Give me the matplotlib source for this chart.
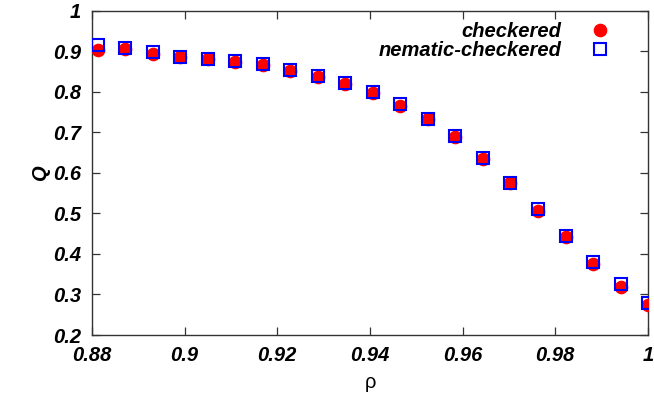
import matplotlib
matplotlib.use("Agg")
import matplotlib.pyplot as plt
from matplotlib.ticker import FormatStrFormatter

# density values (x axis)
rho = [0.8812, 0.8871, 0.8931, 0.8990, 0.9050, 0.9109, 0.9168, 0.9228, 0.9287,
       0.9347, 0.9406, 0.9465, 0.9525, 0.9584, 0.9644, 0.9703, 0.9762, 0.9822,
       0.9881, 0.9941, 1.0]

# order parameter Q
q_checkered = [0.903, 0.905, 0.892, 0.886, 0.880, 0.874, 0.866, 0.852, 0.836,
               0.818, 0.796, 0.765, 0.732, 0.688, 0.634, 0.574, 0.507, 0.441,
               0.376, 0.319, 0.273]
q_nematic = [0.915, 0.907, 0.897, 0.887, 0.882, 0.876, 0.868, 0.854, 0.839,
             0.822, 0.799, 0.769, 0.734, 0.691, 0.637, 0.576, 0.510, 0.444,
             0.380, 0.327, 0.279]

xticks = [0.88, 0.9, 0.92, 0.94, 0.96, 0.98, 1.0]
yticks = [0.2, 0.3, 0.4, 0.5, 0.6, 0.7, 0.8, 0.9, 1.0]

plt.rcParams['font.family'] = ['Liberation Sans', 'DejaVu Sans']
fs = 14.5

fig = plt.figure(figsize=(6.54, 4.05), dpi=100)
ax = fig.add_axes([0.1407, 0.1728, 0.8501, 0.8008])

ax.plot(rho, q_checkered, 'o', color='#ff0000', ms=8.8, mec='#ff0000',
        label='checkered', zorder=3)
ax.plot(rho, q_nematic, 's', mfc='none', mec='#0000ff', mew=1.5, ms=8.2,
        label='nematic-checkered', zorder=4)

ax.set_xlim(0.88, 1.0)
ax.set_ylim(0.2, 1.0)
ax.set_xticks(xticks)
ax.set_yticks(yticks)
ax.xaxis.set_major_formatter(FormatStrFormatter('%g'))
ax.yaxis.set_major_formatter(FormatStrFormatter('%g'))

ax.tick_params(direction='in', length=6, width=0.9, top=True, right=True,
               labelsize=fs, pad=8, color='#333333')
for lab in ax.get_xticklabels() + ax.get_yticklabels():
    lab.set_fontweight('bold')
    lab.set_fontstyle('italic')
for s in ax.spines.values():
    s.set_linewidth(1.0)
    s.set_color('#333333')

ax.set_xlabel('ρ', fontsize=fs, labelpad=6)
ax.set_ylabel('Q', fontsize=fs, fontweight='bold', fontstyle='italic',
              labelpad=2)

leg = ax.legend(loc='upper right', bbox_to_anchor=(0.96, 0.983),
                frameon=False, markerfirst=False,
                prop={'size': fs, 'weight': 'bold', 'style': 'italic'},
                handletextpad=0.9, borderaxespad=0.0, borderpad=0.3,
                labelspacing=0.0, handlelength=2.0)

fig.savefig('out.png', dpi=100)
